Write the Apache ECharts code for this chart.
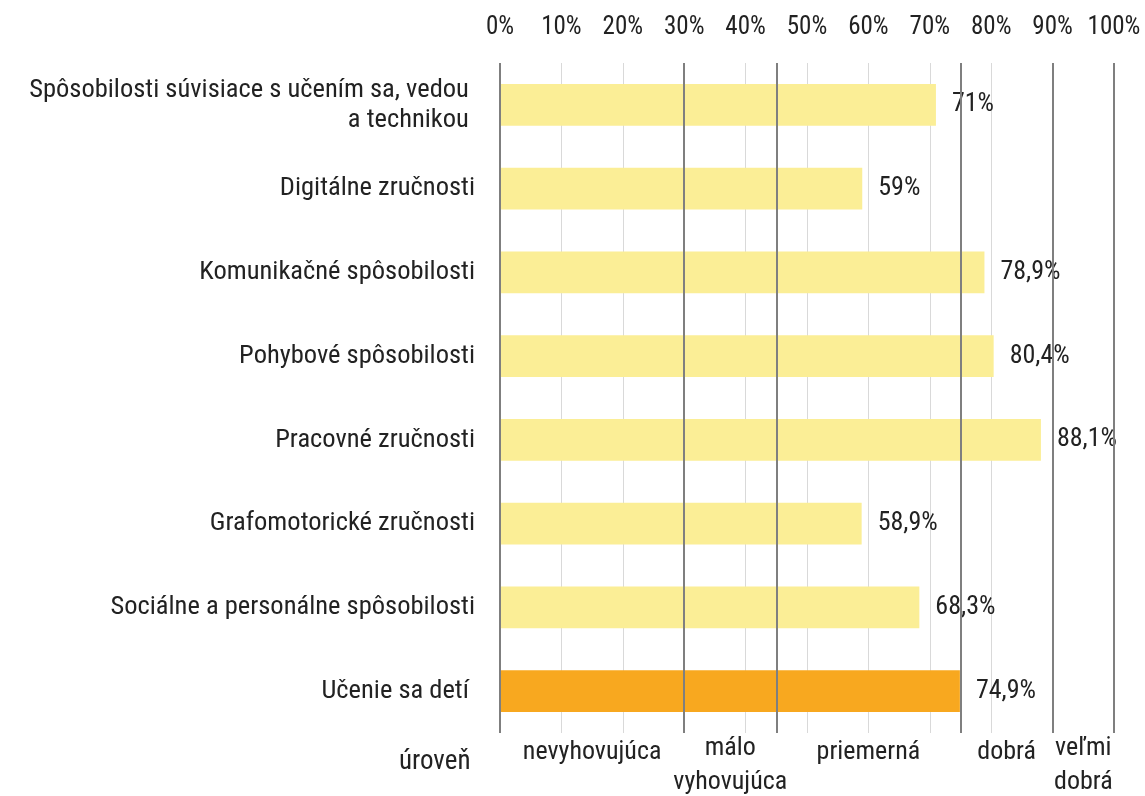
<!DOCTYPE html>
<html>
<head>
<meta charset="utf-8">
<style>
  html, body { margin: 0; padding: 0; background: #fff; }
  #chart { width: 1145px; height: 796px; }
</style>
<script src="https://cdn.jsdelivr.net/npm/echarts@6/dist/echarts.min.js"></script>
</head>
<body>
<div id="chart"></div>
<script>
var categories = [
  'Spôsobilosti súvisiace s učením sa, vedou \na technikou ',
  'Digitálne zručnosti',
  'Komunikačné spôsobilosti',
  'Pohybové spôsobilosti',
  'Pracovné zručnosti',
  'Grafomotorické zručnosti',
  'Sociálne a personálne spôsobilosti',
  'Učenie sa detí '
];
var values = [71, 59, 78.9, 80.4, 88.1, 58.9, 68.3, 74.9];
var highlightIndex = 7;
var levelBounds = [0, 30, 45, 75, 90, 100];
var levelNames = { 15: 'nevyhovujúca', 37.5: 'málo\nvyhovujúca', 60: 'priemerná', 82.5: 'dobrá', 95: 'veľmi\ndobrá' };

var font = 'Roboto Condensed, Liberation Sans Narrow, Roboto, sans-serif';
var chart = echarts.init(document.getElementById('chart'));

var barData = values.map(function (v, i) {
  return {
    value: v,
    itemStyle: { color: i === highlightIndex ? '#f8a81f' : '#fbee96' }
  };
});

chart.setOption({
  backgroundColor: '#fff',
  animation: false,
  textStyle: { fontFamily: font },
  graphic: [{
    type: 'text',
    left: 399,
    top: 749,
    style: { text: 'úroveň', fontSize: 27, fill: '#222', fontFamily: font }
  }],
  grid: { left: 500, right: 31, top: 63, height: 670, outerBoundsMode: 'none' },
  xAxis: [{
    type: 'value',
    position: 'top',
    min: 0,
    max: 100,
    interval: 10,
    axisLine: { show: false },
    axisTick: { show: false },
    axisLabel: { formatter: '{value}%', color: '#222', fontSize: 25, margin: 23 },
    splitLine: { show: true, lineStyle: { color: '#d9d9d9', width: 1 } }
  }, {
    type: 'value',
    position: 'bottom',
    min: 0,
    max: 100,
    interval: 2.5,
    axisLine: { show: false },
    axisTick: { show: false },
    splitLine: { show: false },
    axisLabel: {
      color: '#222',
      fontSize: 26,
      margin: -2,
      lineHeight: 34,
      formatter: function (v) {
        var name = levelNames[v];
        if (!name) return '';
        return name.indexOf('\n') >= 0 ? name : '{s|' + name + '}';
      },
      rich: { s: { fontSize: 26, lineHeight: 34, padding: [9, 0, 0, 0] } }
    }
  }],
  yAxis: {
    type: 'category',
    inverse: true,
    data: categories,
    axisLine: { show: false },
    axisTick: { show: false },
    splitLine: { show: false },
    axisLabel: { color: '#222', fontSize: 26.5, margin: 25, lineHeight: 30, align: 'right' }
  },
  series: [{
    type: 'bar',
    xAxisIndex: 0,
    barWidth: '50%',
    data: barData,
    label: {
      show: true,
      position: 'right',
      distance: 16,
      color: '#222',
      fontSize: 26,
      formatter: function (p) { return String(p.value).replace('.', ',') + '%'; }
    },
    markLine: {
      silent: true,
      symbol: 'none',
      label: { show: false },
      lineStyle: { color: '#7f7f7f', width: 2, type: 'solid' },
      data: levelBounds.map(function (b) { return { xAxis: b }; })
    }
  }]
});
</script>
</body>
</html>
